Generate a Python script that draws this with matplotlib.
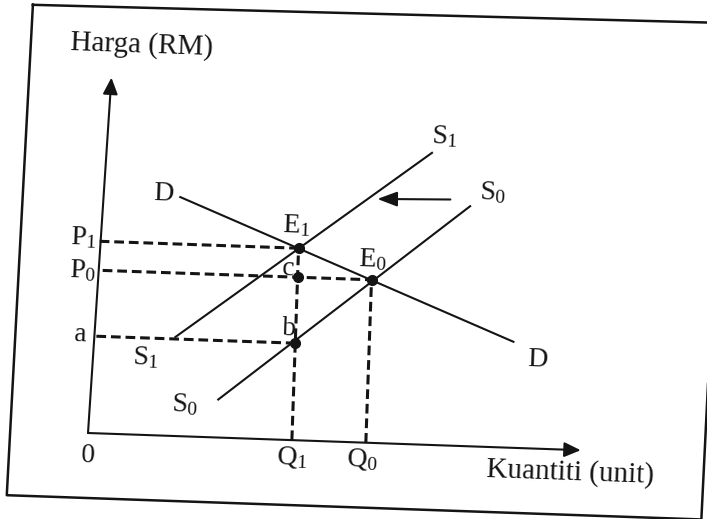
import matplotlib
matplotlib.use("Agg")
import matplotlib.pyplot as plt
from matplotlib.transforms import Affine2D
from matplotlib.patches import FancyArrowPatch
import numpy as np

plt.rcParams['font.family'] = 'Liberation Serif'
plt.rcParams['mathtext.fontset'] = 'custom'
plt.rcParams['mathtext.rm'] = 'Liberation Serif'
plt.rcParams['mathtext.it'] = 'Liberation Serif:italic'
plt.rcParams['lines.scale_dashes'] = False

# diagram values (diagram units, origin at 0)
Q1, Q0 = 204, 278
P1, P0 = 192, 163
a_price = 97

demand_x = [84, 422]
demand_y = [239, 106]
s1_x = [84, 334]
s1_y = [99, 292]
s0_x = [129, 374]
s0_y = [38, 240]
shift_x = [354, 281]
shift_y = [246, 244]

y_axis_x = [0, 11]
y_axis_y = [0, 356]
x_axis_x = [0, 493]
x_axis_y = [0, 0]

frame_x = [-70, -79, 616, 623]
frame_y = [426, -65, -65, 432]

dot_x = [Q1, Q0, Q1, Q1]
dot_y = [P1, P0, P0, a_price]

# (text, x, baseline y)
labels = [
    ("Harga (RM)", 40, 382),
    ("D", 67, 235),
    (r"$\mathrm{E}_{1}$", 201, 208),
    (r"$\mathrm{E}_{0}$", 278, 176),
    ("c", 194, 165),
    ("b", 197, 105),
    (r"$\mathrm{P}_{1}$", -11, 188),
    (r"$\mathrm{P}_{0}$", -11, 155),
    ("a", -11, 91),
    (r"$\mathrm{S}_{1}$", 55, 70),
    (r"$\mathrm{S}_{0}$", 96, 25),
    ("0", 1, -29),
    (r"$\mathrm{Q}_{1}$", 205, -24),
    (r"$\mathrm{Q}_{0}$", 275, -24),
    (r"$\mathrm{S}_{1}$", 346, 302),
    (r"$\mathrm{S}_{0}$", 396, 247),
    ("D", 447, 82),
    ("Kuantiti (unit)", 483, -30),
]
title_labels = ["Harga (RM)", "Kuantiti (unit)"]

fig = plt.figure(figsize=(7.07, 5.19), dpi=100)
ax = fig.add_axes([0, 0, 1, 1])
ax.set_xlim(0, 707)
ax.set_ylim(519, 0)
ax.axis('off')

# scanned page is turned slightly
theta = np.deg2rad(2.0)
c, s = np.cos(theta), np.sin(theta)
scan = Affine2D(np.array([[c, s, 88], [s, -c, 433], [0, 0, 1]]))
tr = scan + ax.transData

ink = '#141414'

ax.plot(frame_x + [frame_x[0]], frame_y + [frame_y[0]], color=ink, lw=1.8,
        transform=tr, clip_on=True)

for xs, ys in [(y_axis_x, y_axis_y), (x_axis_x, x_axis_y)]:
    ax.add_patch(FancyArrowPatch((xs[0], ys[0]), (xs[1], ys[1]), transform=tr,
                                 arrowstyle='-|>,head_length=1.0,head_width=0.45',
                                 mutation_scale=10, lw=1.5, color=ink,
                                 shrinkA=0, shrinkB=0))

ax.plot(demand_x, demand_y, color=ink, lw=1.5, transform=tr)
ax.plot(s1_x, s1_y, color=ink, lw=1.5, transform=tr)
ax.plot(s0_x, s0_y, color=ink, lw=1.5, transform=tr)

ax.add_patch(FancyArrowPatch((shift_x[0], shift_y[0]), (shift_x[1], shift_y[1]), transform=tr,
                             arrowstyle='-|>,head_length=1.2,head_width=0.45',
                             mutation_scale=10, lw=1.5, color=ink,
                             shrinkA=0, shrinkB=0))

dash = dict(color=ink, lw=2.2, dashes=(7, 3.5), transform=tr)
ax.plot([5, Q1], [P1, P1], **dash)
ax.plot([9, Q0], [P0, P0], **dash)
ax.plot([5, Q1], [a_price, a_price], **dash)
ax.plot([Q1, Q1], [0, P1], **dash)
ax.plot([Q0, Q0], [0, P0], **dash)

ax.plot(dot_x, dot_y, 'o', ms=7, color=ink, transform=tr)

for txt, x, y in labels:
    size = 21 if txt in title_labels else 20
    ax.text(x, y, txt, transform=tr, fontsize=size, color=ink,
            ha='center', va='baseline', rotation=-2, rotation_mode='anchor')

fig.savefig("out.png", dpi=100)
